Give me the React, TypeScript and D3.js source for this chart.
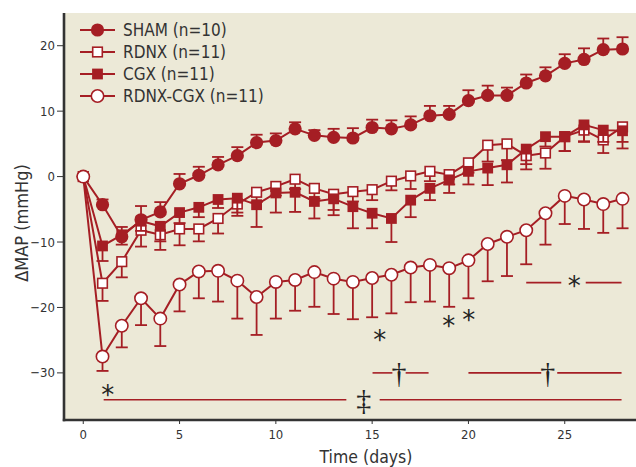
import React from "react";
import * as d3 from "d3";

const days = [0, 1, 2, 3, 4, 5, 6, 7, 8, 9, 10, 11, 12, 13, 14, 15, 16, 17, 18, 19, 20, 21, 22, 23, 24, 25, 26, 27, 28];

const sham = [0, -4.3, -9.2, -6.6, -5.4, -1.1, 0.2, 1.8, 3.2, 5.2, 5.5, 7.3, 6.3, 6.0, 5.9, 7.5, 7.3, 7.9, 9.3, 9.5, 11.6, 12.4, 12.4, 14.3, 15.4, 17.3, 17.9, 19.4, 19.5];
const shamErr = [0, 0.8, 1.5, 2.1, 1.5, 1.5, 1.3, 1.2, 1.3, 1.2, 1.1, 1.0, 0.8, 1.3, 1.5, 1.2, 1.3, 1.3, 1.5, 1.3, 1.6, 1.5, 1.2, 1.3, 1.3, 1.4, 1.7, 1.7, 1.8];

const rdnx = [0, -16.3, -13.0, -8.2, -8.9, -8.0, -8.0, -6.4, -4.2, -2.4, -1.5, -0.4, -1.8, -2.7, -2.3, -2.0, -0.7, 0.1, 0.8, 0.3, 2.1, 4.8, 5.0, 3.2, 3.6, 6.1, 7.1, 5.6, 7.6];
const rdnxErr = [0, 2.7, 2.4, 2.5, 2.3, 2.5, 1.9, 2.3, 1.8, 1.5, 1.4, 1.5, 1.6, 2.4, 1.5, 1.6, 1.4, 2.0, 1.5, 1.5, 1.5, 2.5, 2.5, 2.1, 2.4, 2.2, 1.8, 2.0, 2.3];

const cgx = [0, -10.6, -8.9, -6.8, -7.6, -5.5, -4.7, -3.5, -3.3, -4.3, -2.5, -2.4, -3.8, -3.4, -4.6, -5.6, -6.4, -3.6, -1.8, -0.5, 0.8, 1.3, 1.8, 4.2, 6.1, 6.1, 7.9, 7.1, 7.0];
const cgxErr = [0, 2.3, 1.5, 1.5, 2.3, 1.6, 1.5, 1.3, 2.2, 3.4, 3.0, 3.0, 2.6, 2.5, 3.3, 2.3, 3.6, 2.6, 1.8, 2.0, 2.0, 2.6, 2.7, 2.3, 1.5, 2.2, 2.5, 1.8, 2.7];

const rdnxCgx = [0, -27.5, -22.8, -18.6, -21.7, -16.5, -14.5, -14.4, -15.9, -18.4, -16.1, -15.8, -14.6, -15.6, -16.1, -15.5, -15.0, -13.9, -13.5, -14.0, -12.8, -10.3, -9.2, -8.2, -5.6, -2.95, -3.5, -4.2, -3.4];
const rdnxCgxErr = [0, 2.2, 3.3, 4.1, 4.2, 4.1, 4.1, 4.7, 5.8, 5.8, 5.6, 4.7, 5.3, 5.4, 5.7, 6.0, 5.9, 5.3, 5.6, 5.9, 5.8, 5.7, 6.0, 5.2, 4.8, 4.3, 4.5, 4.4, 4.5];

const legendLabels = ["SHAM (n=10)", "RDNX (n=11)", "CGX (n=11)", "RDNX-CGX (n=11)"];
const xTicks = [0, 5, 10, 15, 20, 25];
const yTicks = [20, 10, 0, -10, -20, -30];

// significance annotations (day, mmHg)
const sigLines = [
  { x1: 1.06, x2: 13.66, y: -34.1 },
  { x1: 15.39, x2: 27.95, y: -34.1 },
  { x1: 15.02, x2: 16.05, y: -30 },
  { x1: 16.74, x2: 17.93, y: -30 },
  { x1: 20.0, x2: 23.78, y: -30 },
  { x1: 24.61, x2: 27.95, y: -30 },
  { x1: 23.0, x2: 24.82, y: -16.2 },
  { x1: 26.09, x2: 27.95, y: -16.2 },
];
const sigSymbols = [
  { x: 1.27, y: -32.9, t: "*" },
  { x: 15.39, y: -24.5, t: "*" },
  { x: 18.98, y: -22.3, t: "*" },
  { x: 20.02, y: -21.5, t: "*" },
  { x: 25.5, y: -16.2, t: "*" },
  { x: 14.57, y: -34.1, t: "‡" },
  { x: 16.39, y: -30, t: "†" },
  { x: 24.12, y: -30, t: "†" },
];

const RED = "#a51e24";
const BG = "#ece9d7";
const INK = "#333333";
const FONT = "'Liberation Sans Narrow', 'DejaVu Sans Condensed', 'Roboto', sans-serif";

const W = 636, H = 467;
const plot = { left: 64, right: 636, top: 13, bottom: 420 };

type Series = { name: string; vals: number[]; err: number[]; marker: "circle" | "square"; filled: boolean; dir: 1 | -1 };

const series: Series[] = [
  { name: legendLabels[0], vals: sham, err: shamErr, marker: "circle", filled: true, dir: 1 },
  { name: legendLabels[1], vals: rdnx, err: rdnxErr, marker: "square", filled: false, dir: -1 },
  { name: legendLabels[2], vals: cgx, err: cgxErr, marker: "square", filled: true, dir: -1 },
  { name: legendLabels[3], vals: rdnxCgx, err: rdnxCgxErr, marker: "circle", filled: false, dir: -1 },
];

function Marker({ cx, cy, s }: { cx: number; cy: number; s: Series }) {
  if (s.marker === "circle") {
    return s.filled ? (
      <circle cx={cx} cy={cy} r={6.6} fill={RED} />
    ) : (
      <circle cx={cx} cy={cy} r={6.2} fill="#fff" stroke={RED} strokeWidth={1.6} />
    );
  }
  return s.filled ? (
    <rect x={cx - 5.4} y={cy - 5.4} width={10.8} height={10.8} fill={RED} />
  ) : (
    <rect x={cx - 4.8} y={cy - 4.8} width={9.6} height={9.6} fill="#fff" stroke={RED} strokeWidth={1.6} />
  );
}

export default function App() {
  const x = d3.scaleLinear().domain([-1, 28.7]).range([plot.left, plot.right]);
  const y = d3.scaleLinear().domain([-37.2, 25]).range([plot.bottom, plot.top]);
  const line = d3.line<number>().x((_, i) => x(days[i])).y((v) => y(v));

  return (
    <svg width={W} height={H} style={{ position: "absolute", left: 0, top: 0, background: "#fff" }} fontFamily={FONT}>
      <rect x={plot.left} y={plot.top} width={plot.right - plot.left} height={plot.bottom - plot.top} fill={BG} />

      {/* significance lines */}
      {sigLines.map((l, i) => (
        <line key={"sl" + i} x1={x(l.x1)} x2={x(l.x2)} y1={y(l.y)} y2={y(l.y)} stroke={RED} strokeWidth={1.6} />
      ))}
      {sigSymbols.map((s, i) =>
        s.t === "*" ? (
          <text key={"ss" + i} x={x(s.x)} y={y(s.y) + 12} textAnchor="middle" fontSize={26} fill="#222" fontFamily="'DejaVu Sans', sans-serif">
            {s.t}
          </text>
        ) : (
          <text key={"ss" + i} x={x(s.x)} y={y(s.y) + 10} textAnchor="middle" fontSize={30} fill="#222" fontFamily="'Liberation Serif', serif">
            {s.t}
          </text>
        )
      )}

      {series.map((s, si) => (
        <g key={"s" + si}>
          <path d={line(s.vals) || ""} fill="none" stroke={RED} strokeWidth={2} />
          {s.vals.map((v, i) =>
            s.err[i] > 0 ? (
              <g key={"e" + i} stroke={RED} strokeWidth={1.8}>
                <line x1={x(days[i])} x2={x(days[i])} y1={y(v)} y2={y(v + s.dir * s.err[i])} />
                <line x1={x(days[i]) - 6} x2={x(days[i]) + 6} y1={y(v + s.dir * s.err[i])} y2={y(v + s.dir * s.err[i])} />
              </g>
            ) : null
          )}
          {s.vals.map((v, i) => (
            <Marker key={"m" + i} cx={x(days[i])} cy={y(v)} s={s} />
          ))}
        </g>
      ))}

      {/* axes */}
      <line x1={plot.left} x2={plot.left} y1={plot.top} y2={plot.bottom + 1.2} stroke={INK} strokeWidth={2.6} />
      <line x1={plot.left - 1.2} x2={plot.right} y1={plot.bottom} y2={plot.bottom} stroke={INK} strokeWidth={2.6} />
      {yTicks.map((t) => (
        <g key={"yt" + t}>
          <line x1={plot.left - 7} x2={plot.left} y1={y(t)} y2={y(t)} stroke={INK} strokeWidth={1} />
          <text x={plot.left - 9} y={y(t)} dy="0.35em" textAnchor="end" fontSize={13} fill={INK}>
            {t < 0 ? "\u2212" + Math.abs(t) : String(t)}
          </text>
        </g>
      ))}
      {xTicks.map((t) => (
        <g key={"xt" + t}>
          <line x1={x(t)} x2={x(t)} y1={plot.bottom} y2={plot.bottom + 4} stroke={INK} strokeWidth={1} />
          <text x={x(t)} y={439} textAnchor="middle" fontSize={13} fill={INK}>
            {t}
          </text>
        </g>
      ))}
      <text x={366} y={462.5} textAnchor="middle" fontSize={17.5} fill={INK}>
        Time (days)
      </text>
      <text transform={`translate(27.5, 223) rotate(-90)`} textAnchor="middle" fontSize={18} fill={INK}>
        ΔMAP (mmHg)
      </text>

      {/* legend */}
      {series.map((s, i) => {
        const ly = 30 + i * 22;
        return (
          <g key={"lg" + i}>
            <line x1={80} x2={115} y1={ly} y2={ly} stroke={RED} strokeWidth={2} />
            <Marker cx={97.5} cy={ly} s={s} />
            <text x={123} y={ly} dy="0.36em" fontSize={17} fill={INK}>
              {s.name}
            </text>
          </g>
        );
      })}
    </svg>
  );
}
